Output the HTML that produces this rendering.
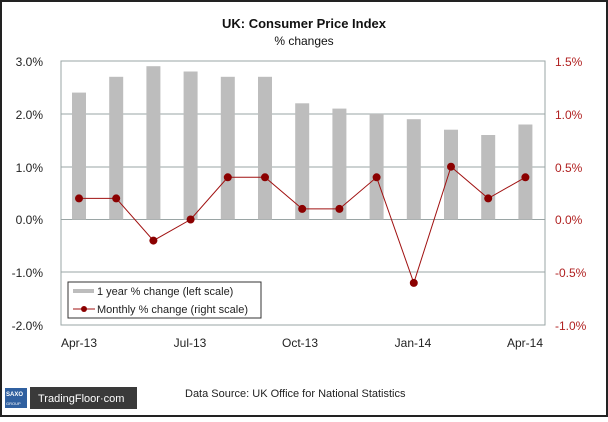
<!DOCTYPE html><html><head><style>body{margin:0;background:#fff}</style></head><body>
<svg width="608" height="417" xmlns="http://www.w3.org/2000/svg" font-family="Liberation Sans, sans-serif">
<rect x="1" y="1" width="606" height="415" fill="#fff" stroke="#222" stroke-width="2"/>
<text x="304" y="28" text-anchor="middle" font-size="13" font-weight="bold" fill="#111">UK: Consumer Price Index</text>
<text x="304" y="45" text-anchor="middle" font-size="12" fill="#111">% changes</text>
<g stroke="#9aa5a5" stroke-width="1">
<line x1="61" y1="114" x2="545" y2="114"/><line x1="61" y1="167" x2="545" y2="167"/>
<line x1="61" y1="219.5" x2="545" y2="219.5"/><line x1="61" y1="272" x2="545" y2="272"/>
</g>
<rect x="61" y="61" width="484" height="264" fill="none" stroke="#9aa5a5"/>
<g fill="#bdbdbd">
<rect x="72" y="92.6" width="14" height="126.9"/>
<rect x="109.2" y="76.8" width="14" height="142.7"/>
<rect x="146.4" y="66.2" width="14" height="153.3"/>
<rect x="183.6" y="71.5" width="14" height="148"/>
<rect x="220.8" y="76.8" width="14" height="142.7"/>
<rect x="258" y="76.8" width="14" height="142.7"/>
<rect x="295.2" y="103.3" width="14" height="116.2"/>
<rect x="332.4" y="108.6" width="14" height="110.9"/>
<rect x="369.6" y="113.9" width="14" height="105.6"/>
<rect x="406.8" y="119.2" width="14" height="100.3"/>
<rect x="444" y="129.7" width="14" height="89.8"/>
<rect x="481.2" y="135" width="14" height="84.5"/>
<rect x="518.4" y="124.5" width="14" height="95"/>
</g>
<g fill="#8b0000">
<polyline fill="none" stroke="#a01010" stroke-width="1" points="79,198.4 116.2,198.4 153.4,240.6 190.6,219.5 227.8,177.3 265,177.3 302.2,208.9 339.4,208.9 376.6,177.3 413.8,282.9 451,166.7 488.2,198.4 525.4,177.3"/>
<circle cx="79" cy="198.4" r="4"/><circle cx="116.2" cy="198.4" r="4"/><circle cx="153.4" cy="240.6" r="4"/><circle cx="190.6" cy="219.5" r="4"/><circle cx="227.8" cy="177.3" r="4"/><circle cx="265" cy="177.3" r="4"/><circle cx="302.2" cy="208.9" r="4"/><circle cx="339.4" cy="208.9" r="4"/><circle cx="376.6" cy="177.3" r="4"/><circle cx="413.8" cy="282.9" r="4"/><circle cx="451" cy="166.7" r="4"/><circle cx="488.2" cy="198.4" r="4"/><circle cx="525.4" cy="177.3" r="4"/>
</g>
<g font-size="12" fill="#222" text-anchor="end">
<text x="43" y="66">3.0%</text><text x="43" y="119">2.0%</text><text x="43" y="172">1.0%</text><text x="43" y="224">0.0%</text><text x="43" y="277">-1.0%</text><text x="43" y="330">-2.0%</text>
</g>
<g font-size="12" fill="#b02020">
<text x="555" y="66">1.5%</text><text x="555" y="119">1.0%</text><text x="555" y="172">0.5%</text><text x="555" y="224">0.0%</text><text x="555" y="277">-0.5%</text><text x="555" y="330">-1.0%</text>
</g>
<g font-size="12" fill="#222" text-anchor="middle">
<text x="79" y="347">Apr-13</text><text x="190" y="347">Jul-13</text><text x="300" y="347">Oct-13</text><text x="413" y="347">Jan-14</text><text x="525" y="347">Apr-14</text>
</g>
<rect x="68" y="282" width="193" height="36" fill="#fff" stroke="#333"/>
<rect x="73" y="289" width="21" height="4" fill="#bdbdbd"/>
<text x="97" y="295" font-size="11" fill="#222">1 year % change (left scale)</text>
<line x1="73" y1="309" x2="95" y2="309" stroke="#a01010"/><circle cx="84" cy="309" r="3" fill="#8b0000"/>
<text x="97" y="313" font-size="11" fill="#222">Monthly % change (right scale)</text>
<text x="185" y="397" font-size="11" fill="#222">Data Source: UK Office for National Statistics</text>
<rect x="5" y="388" width="22" height="20" fill="#3060a0"/>
<text x="6" y="396" font-size="6" fill="#fff" font-weight="bold">SAXO</text>
<text x="6" y="405" font-size="4" fill="#fff">GROUP</text>
<rect x="30" y="387" width="107" height="22" fill="#3a3a3a"/>
<text x="38" y="402" font-size="11" fill="#fff">TradingFloor·com</text>
</svg></body></html>
